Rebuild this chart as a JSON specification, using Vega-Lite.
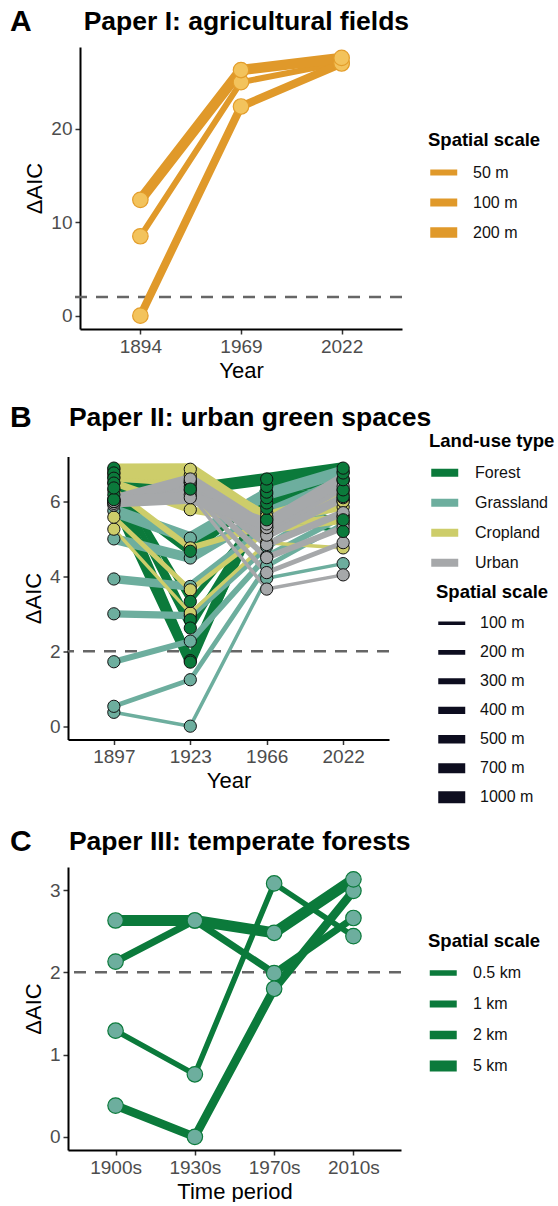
{
  "$schema": "https://vega.github.io/schema/vega-lite/v6.json",
  "background": "white",
  "padding": {"left": 10, "top": 7, "right": 0, "bottom": 0},
  "columns": 1,
  "spacing": 127.5,
  "bounds": "flush",
  "datasets": {
    "a": [
      {"scale": "50 m", "year": "1894", "daic": 8.5},
      {"scale": "50 m", "year": "1969", "daic": 25.0},
      {"scale": "50 m", "year": "2022", "daic": 27.1},
      {"scale": "100 m", "year": "1894", "daic": 0.0},
      {"scale": "100 m", "year": "1969", "daic": 22.4},
      {"scale": "100 m", "year": "2022", "daic": 27.0},
      {"scale": "200 m", "year": "1894", "daic": 12.4},
      {"scale": "200 m", "year": "1969", "daic": 26.3},
      {"scale": "200 m", "year": "2022", "daic": 27.6}
    ],
    "b": [
      {"landuse": "Forest", "scale": "100 m", "year": "1897", "daic": 6.89},
      {"landuse": "Forest", "scale": "100 m", "year": "1923", "daic": 2.84},
      {"landuse": "Forest", "scale": "100 m", "year": "1966", "daic": 5.51},
      {"landuse": "Forest", "scale": "100 m", "year": "2022", "daic": 5.20},
      {"landuse": "Forest", "scale": "200 m", "year": "1897", "daic": 6.76},
      {"landuse": "Forest", "scale": "200 m", "year": "1923", "daic": 3.33},
      {"landuse": "Forest", "scale": "200 m", "year": "1966", "daic": 5.82},
      {"landuse": "Forest", "scale": "200 m", "year": "2022", "daic": 5.51},
      {"landuse": "Forest", "scale": "300 m", "year": "1897", "daic": 6.62},
      {"landuse": "Forest", "scale": "300 m", "year": "1923", "daic": 2.62},
      {"landuse": "Forest", "scale": "300 m", "year": "1966", "daic": 5.96},
      {"landuse": "Forest", "scale": "300 m", "year": "2022", "daic": 6.13},
      {"landuse": "Forest", "scale": "400 m", "year": "1897", "daic": 6.49},
      {"landuse": "Forest", "scale": "400 m", "year": "1923", "daic": 1.75},
      {"landuse": "Forest", "scale": "400 m", "year": "1966", "daic": 6.10},
      {"landuse": "Forest", "scale": "400 m", "year": "2022", "daic": 6.31},
      {"landuse": "Forest", "scale": "500 m", "year": "1897", "daic": 6.18},
      {"landuse": "Forest", "scale": "500 m", "year": "1923", "daic": 4.67},
      {"landuse": "Forest", "scale": "500 m", "year": "1966", "daic": 6.25},
      {"landuse": "Forest", "scale": "500 m", "year": "2022", "daic": 6.58},
      {"landuse": "Forest", "scale": "700 m", "year": "1897", "daic": 6.05},
      {"landuse": "Forest", "scale": "700 m", "year": "1923", "daic": 1.71},
      {"landuse": "Forest", "scale": "700 m", "year": "1966", "daic": 6.40},
      {"landuse": "Forest", "scale": "700 m", "year": "2022", "daic": 6.76},
      {"landuse": "Forest", "scale": "1000 m", "year": "1897", "daic": 6.36},
      {"landuse": "Forest", "scale": "1000 m", "year": "1923", "daic": 6.33},
      {"landuse": "Forest", "scale": "1000 m", "year": "1966", "daic": 6.60},
      {"landuse": "Forest", "scale": "1000 m", "year": "2022", "daic": 6.89},
      {"landuse": "Grassland", "scale": "100 m", "year": "1897", "daic": 0.37},
      {"landuse": "Grassland", "scale": "100 m", "year": "1923", "daic": 0.00},
      {"landuse": "Grassland", "scale": "100 m", "year": "1966", "daic": 3.95},
      {"landuse": "Grassland", "scale": "100 m", "year": "2022", "daic": 4.34},
      {"landuse": "Grassland", "scale": "200 m", "year": "1897", "daic": 0.53},
      {"landuse": "Grassland", "scale": "200 m", "year": "1923", "daic": 1.24},
      {"landuse": "Grassland", "scale": "200 m", "year": "1966", "daic": 4.27},
      {"landuse": "Grassland", "scale": "200 m", "year": "2022", "daic": 5.40},
      {"landuse": "Grassland", "scale": "300 m", "year": "1897", "daic": 1.72},
      {"landuse": "Grassland", "scale": "300 m", "year": "1923", "daic": 2.27},
      {"landuse": "Grassland", "scale": "300 m", "year": "1966", "daic": 4.53},
      {"landuse": "Grassland", "scale": "300 m", "year": "2022", "daic": 5.60},
      {"landuse": "Grassland", "scale": "400 m", "year": "1897", "daic": 3.00},
      {"landuse": "Grassland", "scale": "400 m", "year": "1923", "daic": 2.95},
      {"landuse": "Grassland", "scale": "400 m", "year": "1966", "daic": 4.80},
      {"landuse": "Grassland", "scale": "400 m", "year": "2022", "daic": 6.05},
      {"landuse": "Grassland", "scale": "500 m", "year": "1897", "daic": 3.93},
      {"landuse": "Grassland", "scale": "500 m", "year": "1923", "daic": 3.73},
      {"landuse": "Grassland", "scale": "500 m", "year": "1966", "daic": 5.30},
      {"landuse": "Grassland", "scale": "500 m", "year": "2022", "daic": 6.30},
      {"landuse": "Grassland", "scale": "700 m", "year": "1897", "daic": 5.00},
      {"landuse": "Grassland", "scale": "700 m", "year": "1923", "daic": 4.49},
      {"landuse": "Grassland", "scale": "700 m", "year": "1966", "daic": 5.70},
      {"landuse": "Grassland", "scale": "700 m", "year": "2022", "daic": 6.55},
      {"landuse": "Grassland", "scale": "1000 m", "year": "1897", "daic": 5.75},
      {"landuse": "Grassland", "scale": "1000 m", "year": "1923", "daic": 5.02},
      {"landuse": "Grassland", "scale": "1000 m", "year": "1966", "daic": 6.20},
      {"landuse": "Grassland", "scale": "1000 m", "year": "2022", "daic": 6.80},
      {"landuse": "Cropland", "scale": "100 m", "year": "1897", "daic": 5.26},
      {"landuse": "Cropland", "scale": "100 m", "year": "1923", "daic": 3.02},
      {"landuse": "Cropland", "scale": "100 m", "year": "1966", "daic": 4.90},
      {"landuse": "Cropland", "scale": "100 m", "year": "2022", "daic": 4.76},
      {"landuse": "Cropland", "scale": "200 m", "year": "1897", "daic": 5.58},
      {"landuse": "Cropland", "scale": "200 m", "year": "1923", "daic": 3.64},
      {"landuse": "Cropland", "scale": "200 m", "year": "1966", "daic": 5.20},
      {"landuse": "Cropland", "scale": "200 m", "year": "2022", "daic": 5.47},
      {"landuse": "Cropland", "scale": "300 m", "year": "1897", "daic": 6.30},
      {"landuse": "Cropland", "scale": "300 m", "year": "1923", "daic": 4.76},
      {"landuse": "Cropland", "scale": "300 m", "year": "1966", "daic": 5.35},
      {"landuse": "Cropland", "scale": "300 m", "year": "2022", "daic": 5.60},
      {"landuse": "Cropland", "scale": "400 m", "year": "1897", "daic": 6.50},
      {"landuse": "Cropland", "scale": "400 m", "year": "1923", "daic": 5.78},
      {"landuse": "Cropland", "scale": "400 m", "year": "1966", "daic": 5.45},
      {"landuse": "Cropland", "scale": "400 m", "year": "2022", "daic": 5.85},
      {"landuse": "Cropland", "scale": "500 m", "year": "1897", "daic": 6.65},
      {"landuse": "Cropland", "scale": "500 m", "year": "1923", "daic": 6.50},
      {"landuse": "Cropland", "scale": "500 m", "year": "1966", "daic": 5.55},
      {"landuse": "Cropland", "scale": "500 m", "year": "2022", "daic": 6.00},
      {"landuse": "Cropland", "scale": "700 m", "year": "1897", "daic": 6.75},
      {"landuse": "Cropland", "scale": "700 m", "year": "1923", "daic": 6.70},
      {"landuse": "Cropland", "scale": "700 m", "year": "1966", "daic": 5.60},
      {"landuse": "Cropland", "scale": "700 m", "year": "2022", "daic": 6.20},
      {"landuse": "Cropland", "scale": "1000 m", "year": "1897", "daic": 6.85},
      {"landuse": "Cropland", "scale": "1000 m", "year": "1923", "daic": 6.86},
      {"landuse": "Cropland", "scale": "1000 m", "year": "1966", "daic": 5.50},
      {"landuse": "Cropland", "scale": "1000 m", "year": "2022", "daic": 6.00},
      {"landuse": "Urban", "scale": "100 m", "year": "1897", "daic": 5.90},
      {"landuse": "Urban", "scale": "100 m", "year": "1923", "daic": 6.18},
      {"landuse": "Urban", "scale": "100 m", "year": "1966", "daic": 3.66},
      {"landuse": "Urban", "scale": "100 m", "year": "2022", "daic": 4.04},
      {"landuse": "Urban", "scale": "200 m", "year": "1897", "daic": 5.95},
      {"landuse": "Urban", "scale": "200 m", "year": "1923", "daic": 6.30},
      {"landuse": "Urban", "scale": "200 m", "year": "1966", "daic": 4.10},
      {"landuse": "Urban", "scale": "200 m", "year": "2022", "daic": 4.90},
      {"landuse": "Urban", "scale": "300 m", "year": "1897", "daic": 6.00},
      {"landuse": "Urban", "scale": "300 m", "year": "1923", "daic": 6.40},
      {"landuse": "Urban", "scale": "300 m", "year": "1966", "daic": 4.50},
      {"landuse": "Urban", "scale": "300 m", "year": "2022", "daic": 5.30},
      {"landuse": "Urban", "scale": "400 m", "year": "1897", "daic": 6.05},
      {"landuse": "Urban", "scale": "400 m", "year": "1923", "daic": 6.50},
      {"landuse": "Urban", "scale": "400 m", "year": "1966", "daic": 4.85},
      {"landuse": "Urban", "scale": "400 m", "year": "2022", "daic": 5.70},
      {"landuse": "Urban", "scale": "500 m", "year": "1897", "daic": 6.00},
      {"landuse": "Urban", "scale": "500 m", "year": "1923", "daic": 6.55},
      {"landuse": "Urban", "scale": "500 m", "year": "1966", "daic": 5.10},
      {"landuse": "Urban", "scale": "500 m", "year": "2022", "daic": 6.10},
      {"landuse": "Urban", "scale": "700 m", "year": "1897", "daic": 6.05},
      {"landuse": "Urban", "scale": "700 m", "year": "1923", "daic": 6.60},
      {"landuse": "Urban", "scale": "700 m", "year": "1966", "daic": 5.30},
      {"landuse": "Urban", "scale": "700 m", "year": "2022", "daic": 6.40},
      {"landuse": "Urban", "scale": "1000 m", "year": "1897", "daic": 6.00},
      {"landuse": "Urban", "scale": "1000 m", "year": "1923", "daic": 6.10},
      {"landuse": "Urban", "scale": "1000 m", "year": "1966", "daic": 5.40},
      {"landuse": "Urban", "scale": "1000 m", "year": "2022", "daic": 6.60}
    ],
    "c": [
      {"scale": "0.5 km", "year": "1900s", "daic": 1.29},
      {"scale": "0.5 km", "year": "1930s", "daic": 0.76},
      {"scale": "0.5 km", "year": "1970s", "daic": 3.08},
      {"scale": "0.5 km", "year": "2010s", "daic": 2.44},
      {"scale": "1 km", "year": "1900s", "daic": 2.13},
      {"scale": "1 km", "year": "1930s", "daic": 2.63},
      {"scale": "1 km", "year": "1970s", "daic": 1.99},
      {"scale": "1 km", "year": "2010s", "daic": 2.66},
      {"scale": "2 km", "year": "1900s", "daic": 0.38},
      {"scale": "2 km", "year": "1930s", "daic": 0.00},
      {"scale": "2 km", "year": "1970s", "daic": 1.80},
      {"scale": "2 km", "year": "2010s", "daic": 2.99},
      {"scale": "5 km", "year": "1900s", "daic": 2.63},
      {"scale": "5 km", "year": "1930s", "daic": 2.63},
      {"scale": "5 km", "year": "1970s", "daic": 2.48},
      {"scale": "5 km", "year": "2010s", "daic": 3.13}
    ]
  },
  "concat": [
    {
      "width": 334,
      "height": 282,
      "data": {"name": "a"},
      "title": {
        "text": "A",
        "subtitle": "\u200b\u00a0\u00a0\u00a0\u00a0\u00a0\u00a0\u00a0\u00a0\u00a0\u00a0Paper I: agricultural fields",
        "dx": -58,
        "offset": 10
      },
      "layer": [
        {
          "data": {"values": [{"h": 2}]},
          "mark": {"type": "rule", "strokeDash": [12, 9], "color": "#666666", "strokeWidth": 2.5},
          "encoding": {"y": {"field": "h", "type": "quantitative", "axis": {"title": "ΔAIC", "offset": -12}}}
        },
        {
          "mark": {"type": "line", "color": "#E0992A", "strokeCap": "butt", "strokeJoin": "round"},
          "encoding": {
            "x": {"field": "year", "type": "ordinal", "sort": null, "scale": {"type": "point", "padding": 0.6, "range": [12, 334]}, "axis": {"title": "Year", "labelAngle": 0}},
            "y": {"field": "daic", "type": "quantitative", "scale": {"domain": [-1.43, 28.77], "nice": false, "zero": false}, "axis": {"title": "ΔAIC", "values": [0, 10, 20], "format": "d", "offset": -12}},
            "strokeWidth": {
              "field": "scale", "type": "ordinal",
              "scale": {"type": "ordinal", "domain": ["50 m", "100 m", "200 m"], "range": [6, 8, 10.5]},
              "legend": {"title": "Spatial scale", "legendX": 360, "legendY": 84, "symbolStrokeColor": "#E0992A", "clipHeight": 30, "rowPadding": 0, "titlePadding": 8, "labelOffset": 24, "symbolOffset": -3}
            }
          }
        },
        {
          "mark": {"type": "circle", "size": 240, "fill": "#F3C35C", "stroke": "#E39D2B", "strokeWidth": 1.2, "opacity": 1},
          "encoding": {
            "x": {"field": "year", "type": "ordinal", "sort": null},
            "y": {"field": "daic", "type": "quantitative"}
          }
        }
      ]
    },
    {
      "width": 321,
      "height": 283,
      "data": {"name": "b"},
      "title": {
        "text": "B",
        "subtitle": "\u200b\u00a0\u00a0\u00a0\u00a0\u00a0\u00a0\u00a0\u00a0Paper II: urban green spaces",
        "dx": -58,
        "offset": -1
      },
      "layer": [
        {
          "data": {"values": [{"h": 2}]},
          "mark": {"type": "rule", "strokeDash": [12, 9], "color": "#666666", "strokeWidth": 2.5},
          "encoding": {"y": {"field": "h", "type": "quantitative", "axis": {"title": "ΔAIC"}}}
        },
        {
          "mark": {"type": "line", "strokeCap": "butt", "strokeJoin": "round"},
          "encoding": {
            "x": {"field": "year", "type": "ordinal", "sort": null, "scale": {"type": "point", "padding": 0.6}, "axis": {"title": "Year", "labelAngle": 0}},
            "y": {"field": "daic", "type": "quantitative", "scale": {"domain": [-0.356, 7.2], "nice": false, "zero": false}, "axis": {"title": "ΔAIC", "values": [0, 2, 4, 6], "format": "d"}},
            "stroke": {
              "field": "landuse", "type": "nominal",
              "scale": {"domain": ["Forest", "Grassland", "Cropland", "Urban"], "range": ["#0B7A3B", "#6DAE9E", "#CDCD6A", "#A6A8AA"]},
              "legend": {"title": "Land-use type", "legendX": 361, "legendY": -25, "symbolStrokeWidth": 8, "clipHeight": 29.5, "rowPadding": 0, "titlePadding": 8, "labelOffset": 26, "symbolOffset": -2}
            },
            "strokeWidth": {
              "field": "scale", "type": "ordinal",
              "scale": {"type": "ordinal", "domain": ["100 m", "200 m", "300 m", "400 m", "500 m", "700 m", "1000 m"], "range": [3.5, 4.8, 6, 7.2, 8.5, 10, 12]},
              "legend": {"title": "Spatial scale", "legendX": 368, "legendY": 126, "symbolStrokeColor": "#0D0D1F", "clipHeight": 28.7, "rowPadding": 0, "titlePadding": 8, "labelOffset": 22, "symbolOffset": -4}
            }
          }
        },
        {
          "transform": [{"filter": "datum.landuse !== 'Forest'"}],
          "mark": {"type": "circle", "size": 150, "stroke": "#111111", "strokeWidth": 1, "opacity": 1},
          "encoding": {
            "x": {"field": "year", "type": "ordinal", "sort": null},
            "y": {"field": "daic", "type": "quantitative"},
            "fill": {
              "field": "landuse", "type": "nominal",
              "scale": {"domain": ["Forest", "Grassland", "Cropland", "Urban"], "range": ["#0B7A3B", "#6DAE9E", "#CDCD6A", "#A6A8AA"]},
              "legend": null
            }
          }
        },
        {
          "transform": [{"filter": "datum.landuse === 'Forest'"}],
          "mark": {"type": "circle", "size": 150, "stroke": "#111111", "strokeWidth": 1, "opacity": 1},
          "encoding": {
            "x": {"field": "year", "type": "ordinal", "sort": null},
            "y": {"field": "daic", "type": "quantitative"},
            "fill": {"field": "landuse", "type": "nominal", "legend": null}
          }
        }
      ]
    },
    {
      "width": 333,
      "height": 283,
      "data": {"name": "c"},
      "title": {
        "text": "C",
        "subtitle": "\u200b\u00a0\u00a0\u00a0\u00a0\u00a0\u00a0\u00a0\u00a0Paper III: temperate forests",
        "dx": -58,
        "offset": 10
      },
      "layer": [
        {
          "data": {"values": [{"h": 2}]},
          "mark": {"type": "rule", "strokeDash": [12, 9], "color": "#666666", "strokeWidth": 2.5},
          "encoding": {"y": {"field": "h", "type": "quantitative", "axis": {"title": "ΔAIC"}}}
        },
        {
          "mark": {"type": "line", "color": "#0B7A3B", "strokeCap": "butt", "strokeJoin": "round"},
          "encoding": {
            "x": {"field": "year", "type": "ordinal", "sort": null, "scale": {"type": "point", "padding": 0.6}, "axis": {"title": "Time period", "labelAngle": 0}},
            "y": {"field": "daic", "type": "quantitative", "scale": {"domain": [-0.16, 3.28], "nice": false, "zero": false}, "axis": {"title": "ΔAIC", "values": [0, 1, 2, 3], "format": "d"}},
            "strokeWidth": {
              "field": "scale", "type": "ordinal",
              "scale": {"type": "ordinal", "domain": ["0.5 km", "1 km", "2 km", "5 km"], "range": [5.5, 7, 8.5, 11]},
              "legend": {"title": "Spatial scale", "legendX": 360, "legendY": 65, "symbolStrokeColor": "#0B7A3B", "clipHeight": 31, "rowPadding": 0, "titlePadding": 7, "labelOffset": 24, "symbolOffset": -4}
            }
          }
        },
        {
          "mark": {"type": "circle", "size": 240, "fill": "#6DAE9E", "stroke": "#0B7A3B", "strokeWidth": 1.2, "opacity": 1},
          "encoding": {
            "x": {"field": "year", "type": "ordinal", "sort": null},
            "y": {"field": "daic", "type": "quantitative"}
          }
        }
      ]
    }
  ],
  "resolve": {
    "scale": {"x": "independent", "y": "independent", "strokeWidth": "independent", "stroke": "independent", "fill": "independent", "color": "independent"},
    "legend": {"strokeWidth": "independent", "stroke": "independent", "fill": "independent"}
  },
  "config": {
    "font": "Liberation Sans",
    "view": {"stroke": null},
    "axis": {
      "grid": false,
      "domainColor": "#000000",
      "domainWidth": 2,
      "tickColor": "#333333",
      "tickWidth": 1.5,
      "tickSize": 5,
      "labelColor": "#4D4D4D",
      "labelFont": "Liberation Sans",
      "labelFontSize": 19,
      "labelPadding": 3,
      "titleFont": "Liberation Sans",
      "titleFontSize": 22,
      "titleFontWeight": "normal",
      "titleColor": "#000000",
      "titlePadding": 4
    },
    "legend": {
      "orient": "none",
      "direction": "vertical",
      "padding": 0,
      "gridAlign": "all",
      "titleFont": "Liberation Sans",
      "titleFontSize": 18.5,
      "titleFontWeight": "bold",
      "titleColor": "#000000",
      "labelFont": "Liberation Sans",
      "labelFontSize": 16,
      "labelColor": "#111111",
      "symbolType": "M-1,0H3",
      "symbolSize": 182
    },
    "title": {
      "anchor": "start",
      "frame": "group",
      "font": "Liberation Sans",
      "fontSize": 30,
      "fontWeight": "bold",
      "color": "#000000",
      "subtitleFont": "Liberation Sans",
      "subtitleFontSize": 26.5,
      "subtitleFontWeight": "bold",
      "subtitleColor": "#000000",
      "subtitlePadding": -28
    }
  }
}
